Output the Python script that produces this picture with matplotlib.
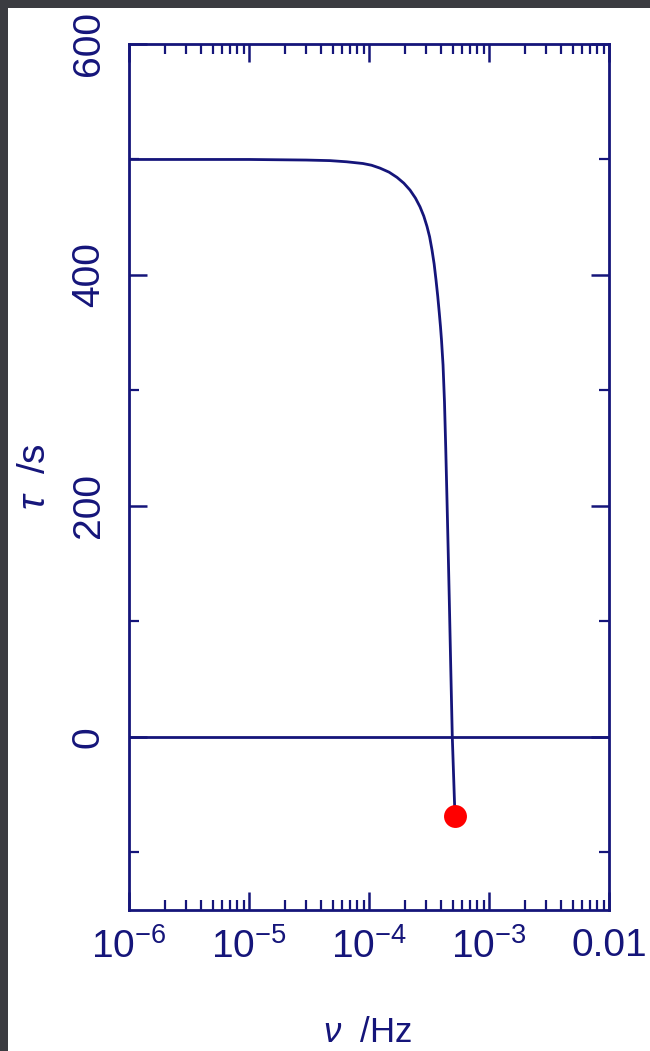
import matplotlib
matplotlib.use("Agg")
import matplotlib.pyplot as plt
import matplotlib.patches as patches
from matplotlib.ticker import LogLocator, MultipleLocator, FixedLocator, FixedFormatter

plt.rcParams['font.family'] = ['Liberation Sans', 'DejaVu Sans']
plt.rcParams['mathtext.fontset'] = 'custom'
plt.rcParams['mathtext.rm'] = 'Liberation Sans'
plt.rcParams['mathtext.it'] = 'Liberation Sans:italic'

NAVY = '#15157a'
FRAME = '#3b3c41'

# delay curve: frequency (Hz) vs tau (s)
freq = [1.0e-6, 1.0e-5, 3.0e-5, 4.73e-5, 6.5e-5, 8.9e-5, 1.05e-4, 1.235e-4,
        1.47e-4, 1.711e-4, 1.95e-4, 2.197e-4, 2.44e-4, 2.661e-4, 2.86e-4,
        3.043e-4, 3.20e-4, 3.35e-4, 3.49e-4, 3.617e-4, 3.74e-4, 3.853e-4,
        3.94e-4, 4.019e-4, 4.14e-4, 4.256e-4, 4.36e-4, 4.467e-4, 4.57e-4,
        4.668e-4, 4.80e-4, 4.944e-4, 5.206e-4]
tau = [500, 500, 499.5, 499, 498, 496.5, 495, 492.5, 489, 484.5, 479.5,
       473.5, 466.5, 459, 451, 442, 433, 421.6, 409.5, 395.7, 381.5, 367,
       355.5, 343.7, 322, 290, 250, 205, 161, 118.6, 60, 0, -69]

# end point marker
dot_freq = [5.206e-4]
dot_tau = [-69]

xtick_vals = [1e-6, 1e-5, 1e-4, 1e-3, 1e-2]
xtick_text = [r'$10^{-6}$', r'$10^{-5}$', r'$10^{-4}$', r'$10^{-3}$', '0.01']
ytick_vals = [0, 200, 400, 600]

fig = plt.figure(figsize=(6.5, 10.51), dpi=100)
fig.patch.set_facecolor(FRAME)
# white page inside the dark frame
fig.patches.append(patches.Rectangle((8 / 650, 0), 1, 1 - 8 / 1051,
                                     transform=fig.transFigure,
                                     facecolor='white', edgecolor='none',
                                     zorder=-1))

ax = fig.add_axes([129 / 650, 1 - 910 / 1051, 480 / 650, 866 / 1051])
ax.set_zorder(1)
ax.set_facecolor('white')

ax.axhline(0, color=NAVY, lw=2.0, zorder=2)
ax.plot(freq, tau, color=NAVY, lw=2.0, zorder=3, solid_joinstyle='round')
ax.plot(dot_freq, dot_tau, 'o', color='#ff0000', ms=16.5, mec='none', zorder=4)

ax.set_xscale('log')
ax.set_xlim(1e-6, 1e-2)
ax.set_ylim(-150, 600)

ax.xaxis.set_major_locator(FixedLocator(xtick_vals))
ax.xaxis.set_major_formatter(FixedFormatter(xtick_text))
ax.xaxis.set_minor_locator(LogLocator(base=10, subs=range(2, 10), numticks=20))
ax.xaxis.set_minor_formatter(FixedFormatter([]))
ax.yaxis.set_major_locator(FixedLocator(ytick_vals))
ax.yaxis.set_minor_locator(MultipleLocator(100))

for s in ax.spines.values():
    s.set_color(NAVY)
    s.set_linewidth(2.0)

ax.tick_params(which='both', direction='in', top=True, right=True,
               color=NAVY, labelcolor=NAVY, labelsize=28)
ax.tick_params(which='major', length=13, width=1.8)
ax.tick_params(which='minor', length=7, width=1.6)
ax.tick_params(axis='x', which='major', pad=13)
ax.tick_params(axis='y', which='major', pad=16, labelrotation=90)
plt.setp(ax.get_yticklabels(), va='center')

ax.set_xlabel(r'$\nu$  /Hz', fontsize=25, color=NAVY, va='center')
ax.xaxis.set_label_coords(0.497, -0.141)
ax.set_ylabel(r'$\tau$  /s', fontsize=28, color=NAVY, va='center')
ax.yaxis.set_label_coords(-0.196, 0.5)

fig.savefig('out.png', dpi=100, facecolor=fig.get_facecolor())
